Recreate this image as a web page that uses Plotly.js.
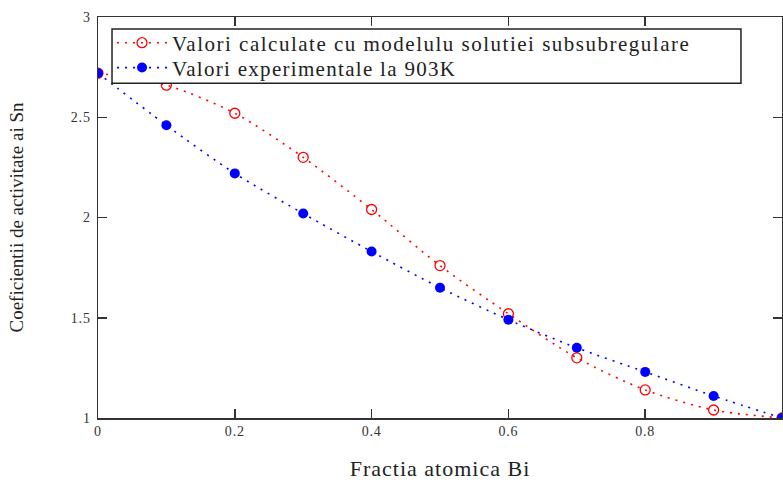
<!DOCTYPE html>
<html>
<head>
<meta charset="utf-8">
<script src="https://cdn.plot.ly/plotly-3.0.1.min.js"></script>
<style>
html,body{margin:0;padding:0;background:#fff;}
#chart{width:783px;height:482px;}
.legendtext{letter-spacing:1.5px;}
.legend2text{letter-spacing:1.3px;}
.xtitle{letter-spacing:1px;}
.xtick text, .ytick text{letter-spacing:0.8px;}
</style>
</head>
<body>
<div id="chart"></div>
<script>
// Data
const fractiaBi = [0, 0.1, 0.2, 0.3, 0.4, 0.5, 0.6, 0.7, 0.8, 0.9, 1.0];
const valoriCalculate = [2.72, 2.66, 2.52, 2.30, 2.04, 1.76, 1.52, 1.30, 1.14, 1.04, 1.00];
const valoriExperimentale = [2.72, 2.46, 2.22, 2.02, 1.83, 1.65, 1.49, 1.35, 1.23, 1.11, 1.00];
const xTickVals = [0, 0.2, 0.4, 0.6, 0.8];
const xTickText = ['0', '0.2', '0.4', '0.6', '0.8'];
const yTickVals = [1, 1.5, 2, 2.5, 3];
const yTickText = ['1', '1.5', '2', '2.5', '3'];
const seriesNames = ['Valori calculate cu modelulu solutiei subsubregulare', 'Valori experimentale la 903K'];

const serif = 'Liberation Serif, Times New Roman, serif';

const traces = [
  {
    x: fractiaBi, y: valoriCalculate, name: seriesNames[0], legend: 'legend',
    type: 'scatter', mode: 'lines+markers',
    line: {color: '#ff0000', width: 1.6, dash: '2px,6px', shape: 'spline', smoothing: 0.8},
    marker: {symbol: 'circle-open', size: 10, color: '#ff0000', line: {width: 1.3, color: '#ff0000'}}
  },
  {
    x: fractiaBi, y: valoriExperimentale, name: seriesNames[1], legend: 'legend2',
    type: 'scatter', mode: 'lines+markers',
    line: {color: '#0000ff', width: 1.6, dash: '2px,6px', shape: 'spline', smoothing: 0.8},
    marker: {symbol: 'circle', size: 10, color: '#0000ff'}
  }
];

const axisCommon = {
  showline: true, linecolor: '#333', linewidth: 1.5, mirror: 'ticks',
  ticks: 'inside', ticklen: 9, tickwidth: 1.5, tickcolor: '#333',
  showgrid: false, zeroline: false,
  tickfont: {family: serif, size: 14, color: '#333'}
};

const legendCommon = {
  x: 0.0205, xanchor: 'left', yanchor: 'middle',
  bgcolor: 'rgba(0,0,0,0)', borderwidth: 0,
  font: {family: serif, size: 21, color: '#222'},
  itemwidth: 50
};

const layout = {
  width: 783, height: 482,
  margin: {l: 98, r: 1, t: 17, b: 64},
  paper_bgcolor: '#fff', plot_bgcolor: '#fff',
  showlegend: true,
  xaxis: Object.assign({}, axisCommon, {
    range: [0, 1], tickvals: xTickVals, ticktext: xTickText,
    title: {text: 'Fractia atomica Bi', font: {family: serif, size: 22, color: '#222'}, standoff: 22},
    automargin: false
  }),
  yaxis: Object.assign({}, axisCommon, {
    range: [1, 3], tickvals: yTickVals, ticktext: yTickText,
    ticklabelstandoff: 3,
    title: {text: 'Coeficientii de activitate ai Sn', font: {family: serif, size: 19, color: '#222'}, standoff: 42},
    automargin: false
  }),
  legend: Object.assign({}, legendCommon, {y: 0.935}),
  legend2: Object.assign({}, legendCommon, {y: 0.873}),
  shapes: [{
    type: 'rect', xref: 'paper', yref: 'paper',
    x0: 0.0205, x1: 0.940, y0: 0.835, y1: 0.970,
    fillcolor: '#fff', line: {color: '#222', width: 1.5}, layer: 'above'
  }]
};

Plotly.newPlot('chart', traces, layout, {displayModeBar: false, staticPlot: true});
</script>
</body>
</html>
